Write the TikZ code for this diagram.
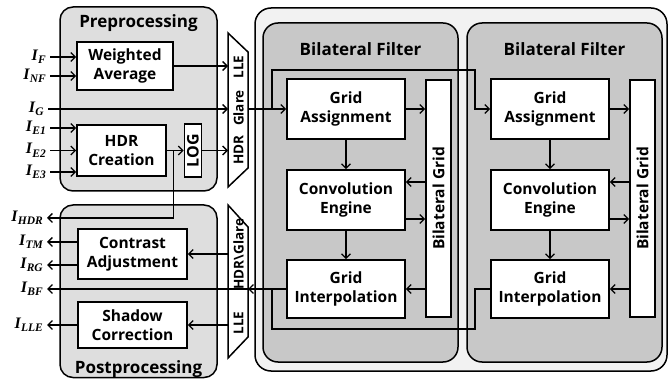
\documentclass[tikz,border=0pt]{standalone}
\usepackage{fontspec}
\setmainfont{Open Sans}
\newfontfamily\sigfont{Liberation Serif}
\usetikzlibrary{arrows.meta,calc}
\definecolor{stageFill}{HTML}{DEDEDE}
\definecolor{outerFill}{HTML}{F2F2F2}
\definecolor{filtFill}{HTML}{C8C8C8}
% signal name: bold italic I with a lowered subscript
\newcommand\sigl[1]{{\sigfont\bfseries\itshape\fontsize{16}{16}\selectfont I\kern0.3pt\raisebox{-3.5pt}{\fontsize{11.5}{11.5}\selectfont #1}}}
\begin{document}
\begin{tikzpicture}[x=1pt,y=-1pt,
  group/.style={draw, line width=1.5pt, rounded corners=13pt},
  blk/.style={draw, line width=1.6pt, fill=white, align=center, inner sep=0pt,
    font=\bfseries\fontsize{15.5}{19}\selectfont},
  ttl/.style={font=\bfseries\fontsize{17}{19}\selectfont, anchor=base, inner sep=0pt},
  mlbl/.style={font=\bfseries\fontsize{13.5}{14}\selectfont, rotate=90, inner sep=0pt},
  sig/.style={inner xsep=4pt, inner ysep=0pt, anchor=east},
  con/.style={line width=1.3pt},
  arr/.style={con, -{Straight Barb[length=4.5pt,width=9pt,line width=1.3pt]}},
]
\useasboundingbox (0,0) rectangle (669,379);

% containers
\draw[group, fill=outerFill, rounded corners=16pt] (255,8) rectangle (667,371);
\draw[group, fill=filtFill, rounded corners=15pt] (263,23) rectangle (458,362);
\draw[group, fill=filtFill, rounded corners=15pt] (467,23) rectangle (662,362);
\draw[group, fill=stageFill] (60,7) rectangle (217,191);
\draw[group, fill=stageFill] (60,205) rectangle (217,377.5);

\node[ttl] (tPre) at (138.5,28) {Preprocessing};
\node[ttl] (tPost) at (138.5,373) {Postprocessing};
\node[ttl] (tF1) at (360.5,56) {Bilateral Filter};
\node[ttl] (tF2) at (564.5,56) {Bilateral Filter};

% selectors
\coordinate (mxA) at (228,0);
\coordinate (mxB) at (248,0);
\coordinate (jx) at (272,0);
\coordinate (kx) at (475,70);
\coordinate (ky) at (272,329);
\draw[line width=1.5pt, fill=white] (228,33) -- (248,52) -- (248,168) -- (228,187) -- cycle;
\draw[line width=1.5pt, fill=white] (228,205) -- (248,227) -- (248,337) -- (228,358) -- cycle;
\node[mlbl] (m1a) at (238.5,67) {LLE};
\node[mlbl] (m1b) at (238.5,108) {Glare};
\node[mlbl] (m1c) at (238.5,150) {HDR};
\node[mlbl] (m2a) at (238.5,254) {HDR\textbackslash Glare};
\node[mlbl] (m2b) at (238.5,323) {LLE};

% preprocessing blocks
\node[blk, minimum width=96pt, minimum height=48pt] (wa) at (125,66) {Weighted\\Average};
\node[blk, minimum width=89pt, minimum height=51pt] (hdr) at (121.5,150.5) {HDR\\Creation};
\node[blk, minimum width=17pt, minimum height=53pt] (log) at (193,150.5) {\rotatebox{90}{\fontsize{16}{16}\selectfont LOG}};

% postprocessing blocks
\node[blk, minimum width=109pt, minimum height=50pt] (ca) at (132.5,254) {Contrast\\Adjustment};
\node[blk, minimum width=109pt, minimum height=46pt] (sc) at (132.5,325) {Shadow\\Correction};

% bilateral filters
\foreach \s/\dx in {1/0, 2/204} {
  \node[blk, minimum width=118pt, minimum height=60pt] (ga\s) at (346+\dx,109) {Grid\\Assignment};
  \node[blk, minimum width=118pt, minimum height=60pt] (ce\s) at (346+\dx,200) {Convolution\\Engine};
  \node[blk, minimum width=118pt, minimum height=58pt] (gi\s) at (346+\dx,289) {Grid\\Interpolation};
  \node[blk, minimum width=25pt, minimum height=237pt] (bg\s) at (438.5+\dx,198.5) {\rotatebox{90}{Bilateral Grid}};
  \path ($(ce\s.east)+(0,-18)$) coordinate (cu\s) ($(ce\s.east)+(0,19)$) coordinate (cd\s);
  \draw[arr] (ga\s.south) -- (ce\s.north);
  \draw[arr] (ce\s.south) -- (gi\s.north);
  \draw[arr] (ga\s.east) -- (ga\s.east -| bg\s.west);
  \draw[arr] (cu\s -| bg\s.west) -- (cu\s);
  \draw[arr] (cd\s) -- (cd\s -| bg\s.west);
  \draw[arr] (gi\s.east -| bg\s.west) -- (gi\s.east);
}

% signal labels
\node[sig] (lF) at (50,57) {\sigl{F}};
\node[sig] (lNF) at (50,76) {\sigl{NF}};
\node[sig] (lG) at (48,109) {\sigl{G}};
\node[sig] (lE1) at (50,128) {\sigl{E1}};
\node[sig] (lE2) at (50,150.5) {\sigl{E2}};
\node[sig] (lE3) at (50,172) {\sigl{E3}};
\node[sig] (lHDR) at (47,218) {\sigl{HDR}};
\node[sig] (lTM) at (47,242) {\sigl{TM}};
\node[sig] (lRG) at (47,265) {\sigl{RG}};
\node[sig] (lBF) at (47,289) {\sigl{BF}};
\node[sig] (lLLE) at (47,325) {\sigl{LLE}};

% preprocessing connections
\draw[arr] (lF.east) -- (lF.east -| wa.west);
\draw[arr] (lNF.east) -- (lNF.east -| wa.west);
\draw[arr] (wa.east) -- (wa.east -| mxA);
\draw[arr] (lG.east) -- (lG.east -| mxA);
\draw[arr] (lE1.east) -- (lE1.east -| hdr.west);
\draw[arr] (lE2.east) -- (lE2.east -| hdr.west);
\draw[arr] (lE3.east) -- (lE3.east -| hdr.west);
\draw[arr] (hdr.east) -- (hdr.east -| log.west);
\draw[arr] (log.east) -- (log.east -| mxA);
\coordinate (hb) at ($(hdr.east)+(7,0)$);
\draw[arr] (hb) |- (lHDR.east);

% into the filters
\draw[arr] (lG.east -| mxB) -- (lG.east -| ga1.west);
\draw[arr] (lG.east -| jx) |- (kx) |- (ga2.west);

% out of the filters
\draw[arr] (gi1.west) -- (gi1.west -| mxB);
\draw[arr] (gi1.west -| mxB) -- (lBF.east);
\draw[con] (gi2.west) -- (gi2.west -| kx) |- (ky) -- (gi1.west -| jx);

% postprocessing connections
\draw[arr] (ca.east -| mxA) -- (ca.east);
\draw[arr] (sc.east -| mxA) -- (sc.east);
\draw[arr] (ca.west |- lTM.east) -- (lTM.east);
\draw[arr] (ca.west |- lRG.east) -- (lRG.east);
\draw[arr] (sc.west) -- (lLLE.east);
\end{tikzpicture}
\end{document}
